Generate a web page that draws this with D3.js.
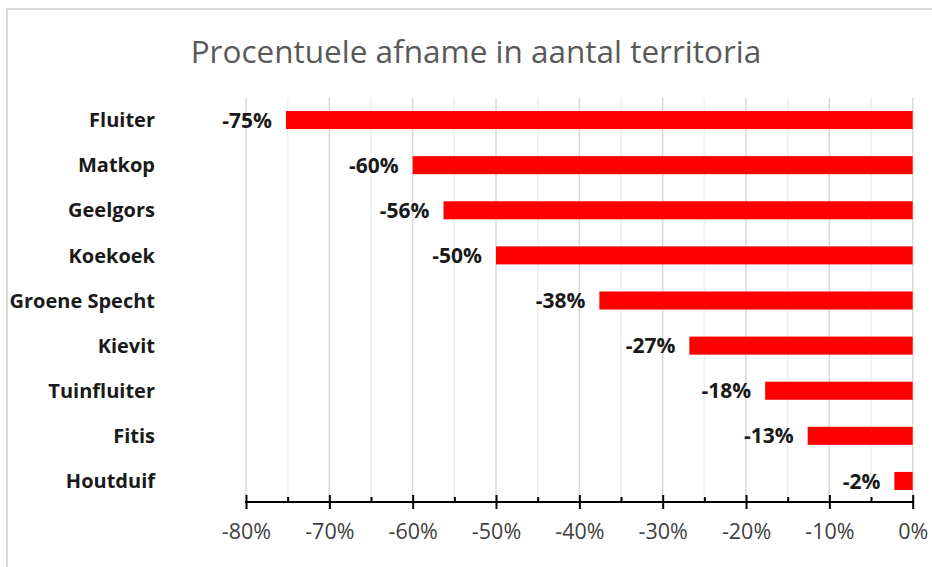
<!DOCTYPE html>
<html>
<head>
<meta charset="utf-8">
<script src="https://cdn.jsdelivr.net/npm/d3@7"></script>
<style>
  html, body { margin: 0; padding: 0; background: #fff; }
  svg { display: block; }
</style>
</head>
<body>
<svg id="chart" width="932" height="567"></svg>
<script>
const title = "Procentuele afname in aantal territoria";
const categories = ["Fluiter", "Matkop", "Geelgors", "Koekoek", "Groene Specht", "Kievit", "Tuinfluiter", "Fitis", "Houtduif"];
const values = [-75.2, -60.0, -56.3, -50.0, -37.6, -26.8, -17.7, -12.6, -2.2];
const majorTicks = [-80, -70, -60, -50, -40, -30, -20, -10, 0];
const minorTicks = [-75, -65, -55, -45, -35, -25, -15, -5];

(function () {
const svg = d3.select("#chart");
const W = 932, H = 567;

// outer chart border
svg.append("rect")
  .attr("x", 7).attr("y", 9)
  .attr("width", W + 10).attr("height", H + 10)
  .attr("fill", "#fff")
  .attr("stroke", "#d9d9d9")
  .attr("stroke-width", 2);

const pLeft = 246, pRight = 912.7, pTop = 97.5, pBottom = 503.5;
const x = d3.scaleLinear().domain([-80, 0]).range([pLeft, pRight]);
const y = d3.scaleBand().domain(categories).range([pTop, pBottom]).paddingInner(0.6).paddingOuter(0.3);
const axisY = 502;

// title
svg.append("text")
  .attr("x", 476).attr("y", 63)
  .attr("text-anchor", "middle")
  .attr("font-family", "'Open Sans', sans-serif")
  .attr("font-size", 31.5)
  .attr("fill", "#595959")
  .text(title);

// gridlines
const grid = svg.append("g");
grid.selectAll("line.minor").data(minorTicks).join("line")
  .attr("class", "minor")
  .attr("x1", d => x(d)).attr("x2", d => x(d))
  .attr("y1", pTop).attr("y2", axisY)
  .attr("stroke", "#eeeeee").attr("stroke-width", 1.5);
grid.selectAll("line.major").data(majorTicks).join("line")
  .attr("class", "major")
  .attr("x1", d => x(d)).attr("x2", d => x(d))
  .attr("y1", pTop).attr("y2", axisY)
  .attr("stroke", "#d9d9d9").attr("stroke-width", 1.5);

// bars
svg.append("g").selectAll("rect").data(values).join("rect")
  .attr("x", d => x(d))
  .attr("width", d => x(0) - x(d))
  .attr("y", (d, i) => y(categories[i]))
  .attr("height", y.bandwidth())
  .attr("fill", "#ff0000");

// value labels
svg.append("g").selectAll("text").data(values).join("text")
  .attr("x", d => x(d) - 14)
  .attr("y", (d, i) => y(categories[i]) + y.bandwidth() / 2)
  .attr("dy", "0.36em")
  .attr("text-anchor", "end")
  .attr("font-family", "'Open Sans', sans-serif")
  .attr("font-weight", "bold")
  .attr("font-size", 21)
  .attr("fill", "#1a1a1a")
  .text(d => Math.round(d) + "%");

// category labels
svg.append("g").selectAll("text").data(categories).join("text")
  .attr("x", 155)
  .attr("y", d => y(d) + y.bandwidth() / 2)
  .attr("dy", "0.36em")
  .attr("text-anchor", "end")
  .attr("font-family", "'Open Sans', sans-serif")
  .attr("font-weight", "bold")
  .attr("font-size", 20)
  .attr("fill", "#1a1a1a")
  .text(d => d);

// x axis (major)
const axisMajor = d3.axisBottom(x).tickValues(majorTicks).tickSize(7).tickPadding(15)
  .tickFormat(d => d + "%");
const gAxis = svg.append("g").attr("transform", `translate(0,${axisY})`).call(axisMajor);
gAxis.select(".domain").remove();
gAxis.selectAll(".tick line").attr("y1", -7).attr("y2", 7).attr("stroke", "#000").attr("stroke-width", 2);
gAxis.selectAll(".tick text")
  .attr("font-family", "'Open Sans', sans-serif")
  .attr("font-size", 21.5)
  .attr("fill", "#404040");
// minor ticks
const axisMinor = d3.axisTop(x).tickValues(minorTicks).tickSize(5).tickFormat("");
const gMinor = svg.append("g").attr("transform", `translate(0,${axisY})`).call(axisMinor);
gMinor.select(".domain").remove();
gMinor.selectAll(".tick line").attr("stroke", "#000").attr("stroke-width", 2);
// axis line
svg.append("line")
  .attr("x1", x(-80) - 1).attr("x2", x(0) + 1)
  .attr("y1", axisY).attr("y2", axisY)
  .attr("stroke", "#000").attr("stroke-width", 2);
})();
</script>
</body>
</html>
